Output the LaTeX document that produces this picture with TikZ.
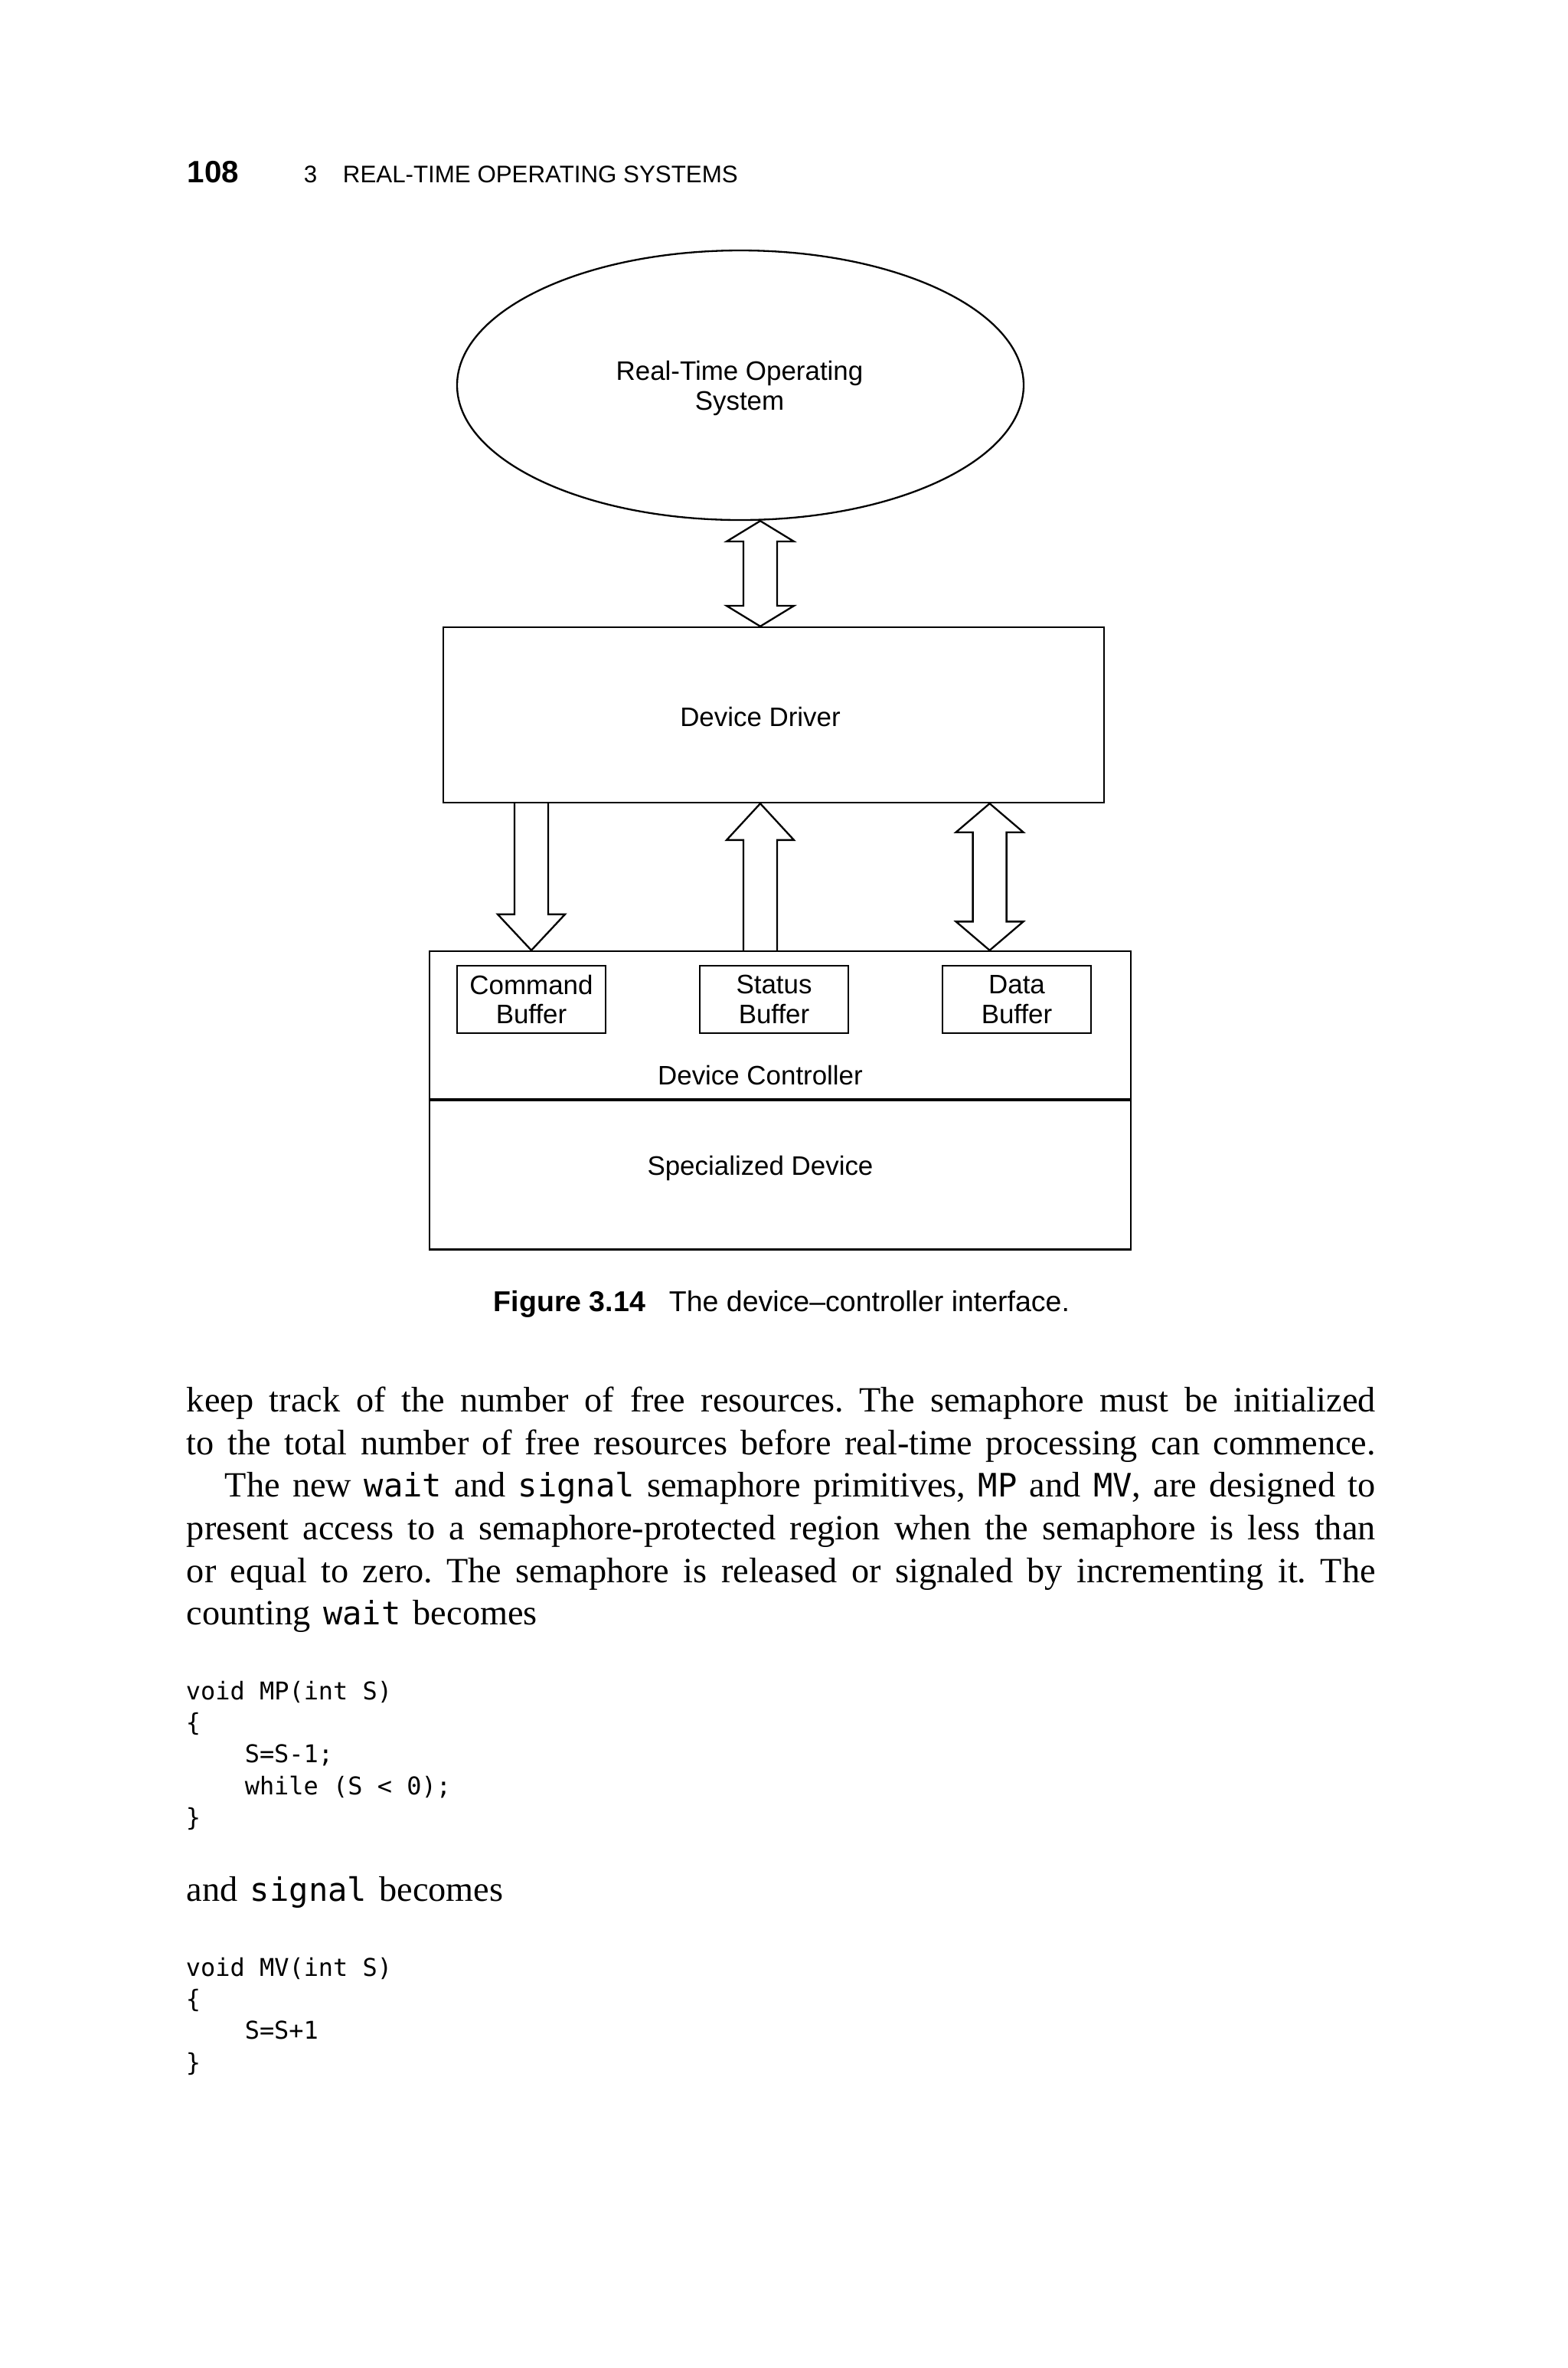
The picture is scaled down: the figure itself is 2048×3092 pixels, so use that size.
\documentclass[tikz,border=0pt]{standalone}
\usepackage{fontspec}
\setmainfont{Liberation Serif}
\setsansfont{Liberation Sans}
\setmonofont{DejaVu Sans Mono}
\usetikzlibrary{calc,shapes.geometric}

\newcommand{\pxu}{0.216pt}
\newcommand{\shaftw}{4.75pt}
\newcommand{\headw}{9.5pt}
\newcommand{\bodyw}{335.4pt}
\newcommand{\diagfont}{\sffamily\fontsize{7.54}{8.4}\selectfont}
\newcommand{\inl}[1]{{\ttfamily\fontsize{9.1}{12}\selectfont #1}}
\newcommand{\jline}[1]{\hbox to \bodyw{#1}}

% hollow block arrow: #1 tail, #2 tip, #3 head length, #4 name
\newcommand{\onearrow}[4]{%
  \coordinate (#4b) at ($(#2)!#3!(#1)$);
  \draw[blockarrow] ($(#1)!\shaftw!90:(#2)$) -- ($(#4b)!\shaftw!90:(#2)$)
    -- ($(#4b)!\headw!90:(#2)$) -- (#2) -- ($(#4b)!\headw!-90:(#2)$)
    -- ($(#4b)!\shaftw!-90:(#2)$) -- ($(#1)!\shaftw!-90:(#2)$);
}
% hollow double arrow between #1 and #2
\newcommand{\twoarrow}[4]{%
  \coordinate (#4a) at ($(#1)!#3!(#2)$);
  \coordinate (#4b) at ($(#2)!#3!(#1)$);
  \draw[blockarrow] (#1) -- ($(#4a)!\headw!90:(#2)$) -- ($(#4a)!\shaftw!90:(#2)$)
    -- ($(#4b)!\shaftw!-90:(#1)$) -- ($(#4b)!\headw!-90:(#1)$) -- (#2)
    -- ($(#4b)!\headw!90:(#1)$) -- ($(#4b)!\shaftw!90:(#1)$)
    -- ($(#4a)!\shaftw!-90:(#2)$) -- ($(#4a)!\headw!-90:(#2)$) -- cycle;
}

\begin{document}
\begin{tikzpicture}[x=\pxu, y=-\pxu,
    box/.style={draw, line width=0.5pt, inner sep=0pt},
    buf/.style={box, minimum width=194*\pxu, minimum height=88*\pxu, align=center, font=\diagfont},
    lbl/.style={inner sep=0pt, align=center, font=\diagfont},
    blockarrow/.style={draw, line width=0.5pt, line join=miter},
    txt/.style={anchor=base west, inner sep=0pt}]
  \useasboundingbox (0,0) rectangle (2048,3092);

  % running head
  \node[txt, font=\sffamily\bfseries\fontsize{8.7}{10}\selectfont] (pageno) at (244,238) {108};
  \node[txt, font=\sffamily\fontsize{6.76}{8}\selectfont] (chapno) at (396,238) {3};
  \node[txt, font=\sffamily\fontsize{6.76}{8}\selectfont] (chaptitle) at (447,238) {REAL-TIME OPERATING SYSTEMS};

  % figure
  \node[draw, ellipse, line width=0.5pt, minimum width=740*\pxu, minimum height=352*\pxu,
    inner sep=0pt] (rtos) at (967,503) {};
  \node[lbl] (rtostext) at (966,507) {Real-Time Operating\\System};
  \node[box, minimum width=863*\pxu, minimum height=229*\pxu] (drv) at (1010.5,933.5) {};
  \node[lbl] (drvtext) at (993,936) {Device Driver};
  \node[box, minimum width=916*\pxu, minimum height=193*\pxu] (ctl) at (1019,1338.5) {};
  \node[box, minimum width=916*\pxu, minimum height=194*\pxu, anchor=north] (dev) at (ctl.south) {};
  \node[buf] (cmdbuf) at (694,1305) {Command\\Buffer};
  \node[buf] (stsbuf) at (1011,1305) {Status\\Buffer};
  \node[buf] (datbuf) at (1328,1305) {Data\\Buffer};
  \node[lbl] (ctltext) at (993,1404) {Device Controller};
  \node[lbl] (devtext) at (993,1525) {Specialized Device};

  \coordinate (ostop) at (rtos.south -| drvtext);
  \coordinate (osbot) at (drv.north -| drvtext);
  \twoarrow{ostop}{osbot}{5.8pt}{os}
  \coordinate (cmdtop) at (drv.south -| cmdbuf);
  \coordinate (cmdbot) at (ctl.north -| cmdbuf);
  \onearrow{cmdtop}{cmdbot}{10.15pt}{cmd}
  \coordinate (stsbot) at (ctl.north -| ctltext);
  \coordinate (ststop) at (drv.south -| ctltext);
  \onearrow{stsbot}{ststop}{10.3pt}{sts}
  \coordinate (dattop) at ($(drv.south west)!0.826!(drv.south east)$);
  \coordinate (datbot) at (ctl.north -| dattop);
  \twoarrow{dattop}{datbot}{8.1pt}{dat}

  % caption
  \node[txt, font=\sffamily\bfseries\fontsize{8.1}{10}\selectfont] (capnum) at (644,1712) {Figure 3.14};
  \node[txt, font=\sffamily\fontsize{8.1}{10}\selectfont] (captext) at (873,1712) {The device–controller interface.};

  % text
  \node[anchor=north west, inner sep=0pt, align=left, font=\rmfamily\fontsize{10}{12}\selectfont\frenchspacing] (body) at (243,1804) {%
    \jline{\strut keep track of the number of free resources. The semaphore must be initialized}\\
    \jline{to the total number of free resources before real-time processing can commence.}\\
    \jline{\hskip 10.8pt The new \inl{wait} and \inl{signal} semaphore primitives, \inl{MP} and \inl{MV}, are designed to}\\
    \jline{present access to a semaphore-protected region when the semaphore is less than}\\
    \jline{or equal to zero. The semaphore is released or signaled by incrementing it. The}\\
    counting\hspace{1pt} \inl{wait}\hspace{1pt} becomes};
  \node[anchor=north west, inner sep=0pt, align=left, font=\ttfamily\fontsize{6.9}{8.96}\selectfont] (mpcode) at (242,2189) {%
    \strut void MP(int S)\\\{\\\hspace*{16.6pt}S=S-1;\\\hspace*{16.6pt}while (S < 0);\\\}};
  \node[txt, font=\rmfamily\fontsize{10}{12}\selectfont] (andsig) at (243,2482) {and\hspace{1pt} \inl{signal}\hspace{1pt} becomes};
  \node[anchor=north west, inner sep=0pt, align=left, font=\ttfamily\fontsize{6.9}{8.96}\selectfont] (mvcode) at (242,2550) {%
    \strut void MV(int S)\\\{\\\hspace*{16.6pt}S=S+1\\\}};
\end{tikzpicture}
\end{document}
